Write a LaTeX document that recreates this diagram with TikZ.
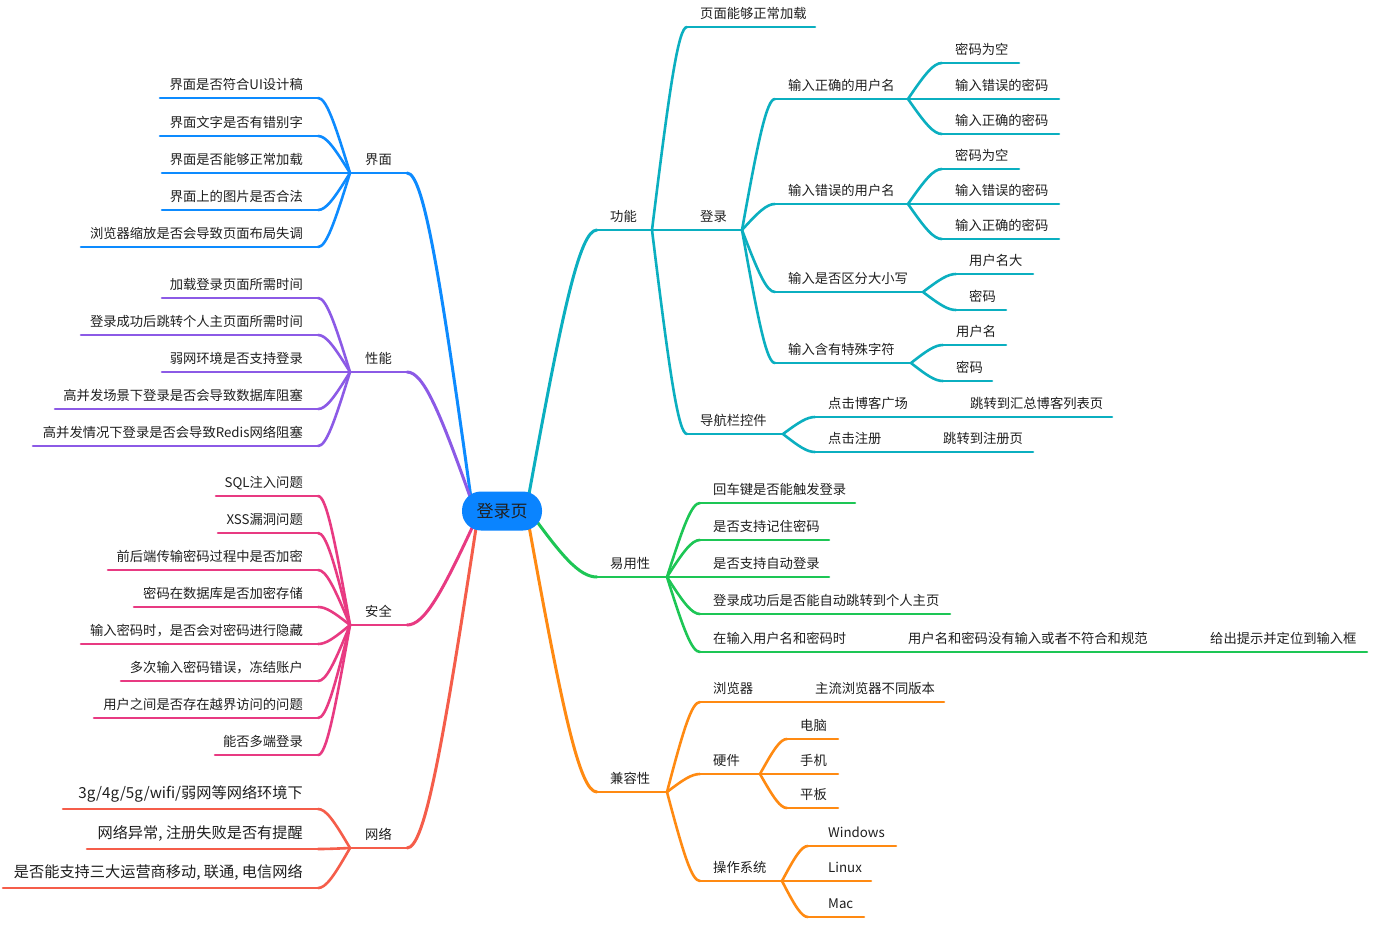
\documentclass[tikz,border=0pt]{standalone}
\usepackage{fontspec}
\setmainfont{Noto Sans CJK SC}
\usetikzlibrary{calc}
\definecolor{cjm}{HTML}{0D8BFF}
\definecolor{croot}{HTML}{0A84FF}
\definecolor{cxn}{HTML}{8C5AE6}
\definecolor{caq}{HTML}{E83A82}
\definecolor{cwl}{HTML}{F55D4A}
\definecolor{cgn}{HTML}{0BAFC0}
\definecolor{cyy}{HTML}{1DC655}
\definecolor{cjr}{HTML}{FF8A12}
\definecolor{txtc}{HTML}{1F1F1F}
\tikzset{
  lbl/.style={font=\fontsize{13.3}{16}\selectfont, text=txtc, inner sep=0pt},
  bigl/.style={font=\fontsize{15.2}{18}\selectfont, yshift=1.5pt},
  ln/.style={line width=2.6pt, line cap=round, draw=#1},
  mln/.style={line width=3pt, line cap=round, draw=#1},
  rootnode/.style={fill=croot, rounded corners=19pt, minimum width=80pt, minimum height=39pt,
    inner sep=0pt, font=\fontsize{17}{20}\selectfont, text=txtc},
}
% [node opts]{name}{xl}{xr}{y}{text}{colour}
\newcommand\LT[7][]{%
  \coordinate (#2-l) at (#3,#5);
  \coordinate (#2-r) at (#4,#5);
  \draw[ln=#7] (#2-l) -- (#2-r);
  \node[lbl,anchor=base east,#1] (#2) at (#4-15,#5-9) {#6};
}
\newcommand\RT[7][]{%
  \coordinate (#2-l) at (#3,#5);
  \coordinate (#2-r) at (#4,#5);
  \draw[ln=#7] (#2-l) -- (#2-r);
  \node[lbl,anchor=base west,#1] (#2) at (#3+13,#5-9) {#6};
}
\newcommand\conn[3]{%
  \draw[ln=#1] let \p1=(#2), \p2=(#3) in (\p1) .. controls ({\x1+0.5*(\x2-\x1)},{\y1+0.7*(\y2-\y1)}) and ({\x2-0.25*(\x2-\x1)},{\y2}) .. (\p2);
}
\newcommand\mconn[3]{%
  \draw[mln=#1] let \p1=(#2), \p2=(#3) in (\p1) .. controls ({\x1+0.5*(\x2-\x1)},{\y1+0.7*(\y2-\y1)}) and ({\x2-0.25*(\x2-\x1)},{\y2}) .. (\p2);
}
\begin{document}
\begin{tikzpicture}[x=1pt,y=-1pt]
\useasboundingbox (0,0) rectangle (1389,924);
\fill[white] (0,0) rectangle (1389,924);

% ---------- left: 界面 ----------
\LT{jm}{350}{407}{173}{界面}{cjm}
\LT{jm1}{160}{318}{98}{界面是否符合UI设计稿}{cjm}
\LT{jm2}{160}{318}{136}{界面文字是否有错别字}{cjm}
\LT{jm3}{162}{318}{173}{界面是否能够正常加载}{cjm}
\LT{jm4}{162}{318}{210}{界面上的图片是否合法}{cjm}
\LT{jm5}{81}{318}{247}{浏览器缩放是否会导致页面布局失调}{cjm}
\foreach \i in {1,...,5}{\conn{cjm}{jm-l}{jm\i-r}}

% ---------- left: 性能 ----------
\LT{xn}{350}{407}{372}{性能}{cxn}
\LT{xn1}{162}{318}{298}{加载登录页面所需时间}{cxn}
\LT{xn2}{81}{318}{335}{登录成功后跳转个人主页面所需时间}{cxn}
\LT{xn3}{162}{318}{372}{弱网环境是否支持登录}{cxn}
\LT{xn4}{55}{318}{409}{高并发场景下登录是否会导致数据库阻塞}{cxn}
\LT{xn5}{33}{318}{446}{高并发情况下登录是否会导致Redis网络阻塞}{cxn}
\foreach \i in {1,...,5}{\conn{cxn}{xn-l}{xn\i-r}}

% ---------- left: 安全 ----------
\LT{aq}{350}{407}{625}{安全}{caq}
\LT{aq1}{216}{318}{496}{SQL注入问题}{caq}
\LT{aq2}{218}{318}{533}{XSS漏洞问题}{caq}
\LT{aq3}{108}{318}{570}{前后端传输密码过程中是否加密}{caq}
\LT{aq4}{134}{318}{607}{密码在数据库是否加密存储}{caq}
\LT{aq5}{81}{318}{644}{输入密码时，是否会对密码进行隐藏}{caq}
\LT{aq6}{121}{318}{681}{多次输入密码错误，冻结账户}{caq}
\LT{aq7}{94}{318}{718}{用户之间是否存在越界访问的问题}{caq}
\LT{aq8}{215}{318}{755}{能否多端登录}{caq}
\foreach \i in {1,...,8}{\conn{caq}{aq-l}{aq\i-r}}

% ---------- left: 网络 ----------
\LT{wl}{350}{407}{848}{网络}{cwl}
\LT[bigl]{wl1}{63}{318}{809}{3g/4g/5g/wifi/弱网等网络环境下}{cwl}
\LT[bigl]{wl2}{87}{318}{849}{网络异常, 注册失败是否有提醒}{cwl}
\LT[bigl]{wl3}{3}{318}{888}{是否能支持三大运营商移动, 联通, 电信网络}{cwl}
\foreach \i in {1,...,3}{\conn{cwl}{wl-l}{wl\i-r}}

% ---------- right: 功能 ----------
\RT{gn}{597}{652}{230}{功能}{cgn}
\RT{gn1}{687}{815}{27}{页面能够正常加载}{cgn}
\RT{dl}{687}{742}{230}{登录}{cgn}
\RT{dh}{687}{783}{434}{导航栏控件}{cgn}
\conn{cgn}{gn-r}{gn1-l}
\conn{cgn}{gn-r}{dl-l}
\conn{cgn}{gn-r}{dh-l}

\RT{dl1}{775}{908}{99}{输入正确的用户名}{cgn}
\RT{dl2}{775}{908}{204}{输入错误的用户名}{cgn}
\RT{dl3}{775}{923}{292}{输入是否区分大小写}{cgn}
\RT{dl4}{775}{911}{363}{输入含有特殊字符}{cgn}
\foreach \i in {1,...,4}{\conn{cgn}{dl-r}{dl\i-l}}

\RT{dl1a}{942}{1019}{63}{密码为空}{cgn}
\RT{dl1b}{942}{1059}{99}{输入错误的密码}{cgn}
\RT{dl1c}{942}{1059}{134}{输入正确的密码}{cgn}
\foreach \i in {a,b,c}{\conn{cgn}{dl1-r}{dl1\i-l}}
\RT{dl2a}{942}{1019}{169}{密码为空}{cgn}
\RT{dl2b}{942}{1059}{204}{输入错误的密码}{cgn}
\RT{dl2c}{942}{1059}{239}{输入正确的密码}{cgn}
\foreach \i in {a,b,c}{\conn{cgn}{dl2-r}{dl2\i-l}}
\RT{dl3a}{956}{1033}{274}{用户名大}{cgn}
\RT{dl3b}{956}{1006}{310}{密码}{cgn}
\foreach \i in {a,b}{\conn{cgn}{dl3-r}{dl3\i-l}}
\RT{dl4a}{943}{1006}{345}{用户名}{cgn}
\RT{dl4b}{943}{992}{381}{密码}{cgn}
\foreach \i in {a,b}{\conn{cgn}{dl4-r}{dl4\i-l}}

\RT{dh1}{815}{923}{417}{点击博客广场}{cgn}
\RT{dh1a}{957}{1112}{417}{跳转到汇总博客列表页}{cgn}
\RT{dh2}{815}{896}{452}{点击注册}{cgn}
\RT{dh2a}{930}{1033}{452}{跳转到注册页}{cgn}
\conn{cgn}{dh-r}{dh1-l}
\conn{cgn}{dh-r}{dh2-l}
\conn{cgn}{dh1-r}{dh1a-l}
\conn{cgn}{dh2-r}{dh2a-l}

% ---------- right: 易用性 ----------
\RT{yy}{597}{667}{577}{易用性}{cyy}
\RT{yy1}{700}{855}{503}{回车键是否能触发登录}{cyy}
\RT{yy2}{700}{829}{540}{是否支持记住密码}{cyy}
\RT{yy3}{700}{829}{577}{是否支持自动登录}{cyy}
\RT{yy4}{700}{950}{614}{登录成功后是否能自动跳转到个人主页}{cyy}
\RT{yy5}{700}{860}{652}{在输入用户名和密码时}{cyy}
\foreach \i in {1,...,5}{\conn{cyy}{yy-r}{yy\i-l}}
\RT{yy5a}{895}{1162}{652}{用户名和密码没有输入或者不符合和规范}{cyy}
\RT{yy5b}{1197}{1367}{652}{给出提示并定位到输入框}{cyy}
\conn{cyy}{yy5-r}{yy5a-l}
\conn{cyy}{yy5a-r}{yy5b-l}

% ---------- right: 兼容性 ----------
\RT{jr}{597}{667}{792}{兼容性}{cjr}
\RT{jr1}{700}{768}{702}{浏览器}{cjr}
\RT{jr2}{700}{760}{774}{硬件}{cjr}
\RT{jr3}{700}{782}{881}{操作系统}{cjr}
\foreach \i in {1,2,3}{\conn{cjr}{jr-r}{jr\i-l}}
\RT{jr1a}{802}{944}{702}{主流浏览器不同版本}{cjr}
\conn{cjr}{jr1-r}{jr1a-l}
\RT{jr2a}{787}{838}{739}{电脑}{cjr}
\RT{jr2b}{787}{838}{774}{手机}{cjr}
\RT{jr2c}{787}{838}{808}{平板}{cjr}
\foreach \i in {a,b,c}{\conn{cjr}{jr2-r}{jr2\i-l}}
\RT[xshift=7pt]{jr3a}{808}{896}{846}{Windows}{cjr}
\RT[xshift=7pt]{jr3b}{808}{871}{881}{Linux}{cjr}
\RT[xshift=7pt]{jr3c}{808}{864}{917}{Mac}{cjr}
\foreach \i in {a,b,c}{\conn{cjr}{jr3-r}{jr3\i-l}}

% ---------- main branches ----------
\coordinate (s-jm) at (474,520);
\coordinate (s-xn) at (473,505);
\coordinate (s-aq) at (478,515);
\coordinate (s-wl) at (478,515);
\coordinate (s-gn) at (527,505);
\coordinate (s-yy) at (525,505);
\coordinate (s-jr) at (527,515);
\mconn{cjm}{s-jm}{jm-r}
\mconn{cxn}{s-xn}{xn-r}
\mconn{caq}{s-aq}{aq-r}
\mconn{cwl}{s-wl}{wl-r}
\mconn{cgn}{s-gn}{gn-l}
\mconn{cyy}{s-yy}{yy-l}
\mconn{cjr}{s-jr}{jr-l}

\node[rootnode] (root) at (502,511) {登录页};
\end{tikzpicture}
\end{document}
